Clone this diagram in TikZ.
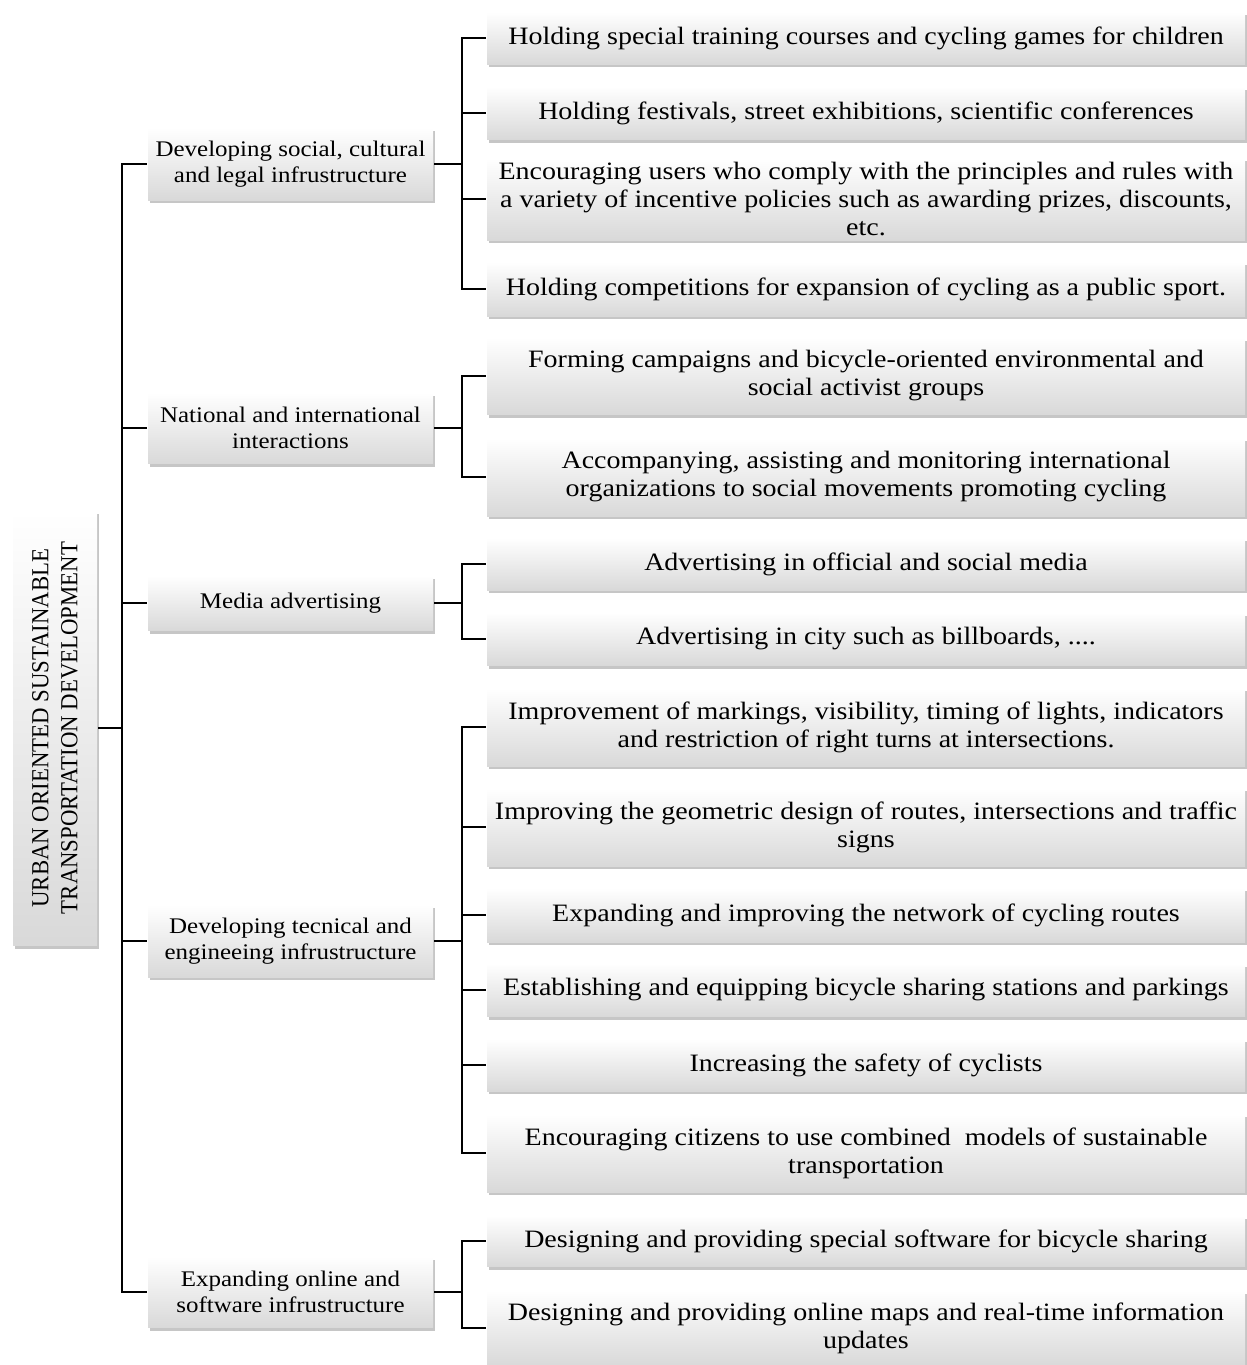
\documentclass[tikz,border=0pt]{standalone}
\usepackage{fontspec}
\setmainfont{Liberation Serif}[FakeStretch=1.12]
\newfontfamily\rootfont{Liberation Serif}[FakeStretch=0.93]
\usetikzlibrary{shadows}

\begin{document}
\begin{tikzpicture}[
  x=1pt, y=-1pt,
  line width=2pt,
  card/.style={shade, top color=white, middle color=black!2, bottom color=black!15, draw=none,
    drop shadow={shadow xshift=1.5pt, shadow yshift=-3pt, opacity=0.45, fill=black!50},
    align=center, inner sep=2pt},
  headbox/.style={card, minimum width=285pt, font=\fontsize{22.3}{26}\selectfont},
  itembox/.style={card, minimum width=758pt, font=\fontsize{25}{28}\selectfont},
]
\useasboundingbox (0,0) rectangle (1247,1365);

% Root
\node[card, rotate=90, minimum width=435pt, minimum height=84pt,
      font=\rootfont\fontsize{24.5}{29}\selectfont] (root) at (55,728)
  {URBAN ORIENTED SUSTAINABLE\\TRANSPORTATION DEVELOPMENT};

% Main branches
\node[headbox, minimum height=72pt] (social) at (290.5,164) {Developing social, cultural\\and legal infrustructure};
\node[headbox, minimum height=71pt] (intl)   at (290.5,428) {National and international\\interactions};
\node[headbox, minimum height=55pt] (media)  at (290.5,603) {Media advertising};
\node[headbox, minimum height=72pt] (tech)   at (290.5,941) {Developing tecnical and\\engineeing infrustructure};
\node[headbox, minimum height=71pt] (online) at (290.5,1292) {Expanding online and\\software infrustructure};

% Social, cultural and legal
\node[itembox, minimum height=52pt] (soc1) at (866,38)  {Holding special training courses and cycling games for children};
\node[itembox, minimum height=53pt] (soc2) at (866,113) {Holding festivals, street exhibitions, scientific conferences};
\node[itembox, minimum height=82pt] (soc3) at (866,199) {Encouraging users who comply with the principles and rules with\\a variety of incentive policies such as awarding prizes, discounts,\\etc.};
\node[itembox, minimum height=54pt] (soc4) at (866,289) {Holding competitions for expansion of cycling as a public sport.};

% National and international
\node[itembox, minimum height=77pt] (int1) at (866,376) {Forming campaigns and bicycle-oriented environmental and\\social activist groups};
\node[itembox, minimum height=78pt] (int2) at (866,477) {Accompanying, assisting and monitoring international\\organizations to social movements promoting cycling};

% Media
\node[itembox, minimum height=52pt] (med1) at (866,564) {Advertising in official and social media};
\node[itembox, minimum height=53pt] (med2) at (866,639) {Advertising in city such as billboards, ....};

% Technical and engineering
\node[itembox, minimum height=78pt] (tec1) at (866,727)  {Improvement of markings, visibility, timing of lights, indicators\\and restriction of right turns at intersections.};
\node[itembox, minimum height=78pt] (tec2) at (866,827)  {Improving the geometric design of routes, intersections and traffic\\signs};
\node[itembox, minimum height=54pt] (tec3) at (866,915)  {Expanding and improving the network of cycling routes};
\node[itembox, minimum height=53pt] (tec4) at (866,990)  {Establishing and equipping bicycle sharing stations and parkings};
\node[itembox, minimum height=52pt] (tec5) at (866,1065) {Increasing the safety of cyclists};
\node[itembox, minimum height=78pt] (tec6) at (866,1153) {Encouraging citizens to use combined\ \ models of sustainable\\transportation};

% Online and software
\node[itembox, minimum height=51pt] (onl1) at (866,1241) {Designing and providing special software for bicycle sharing};
\node[itembox, minimum height=75pt] (onl2) at (866,1328) {Designing and providing online maps and real-time information\\updates};

% Trunk
\coordinate (trunk) at (122,728);
\draw (root.south) -- (trunk);
\draw (trunk) |- (social.west);
\draw (trunk) |- (intl.west);
\draw (trunk) |- (media.west);
\draw (trunk) |- (tech.west);
\draw (trunk) |- (online.west);

% Sub trunks
\draw (social.east) -- ++(28,0) coordinate (socj);
\draw (socj) |- (soc1.west);
\draw (socj) |- (soc2.west);
\draw (socj) |- (soc3.west);
\draw (socj) |- (soc4.west);

\draw (intl.east) -- ++(28,0) coordinate (intj);
\draw (intj) |- (int1.west);
\draw (intj) |- (int2.west);

\draw (media.east) -- ++(28,0) coordinate (medj);
\draw (medj) |- (med1.west);
\draw (medj) |- (med2.west);

\draw (tech.east) -- ++(28,0) coordinate (tecj);
\draw (tecj) |- (tec1.west);
\draw (tecj) |- (tec2.west);
\draw (tecj) |- (tec3.west);
\draw (tecj) |- (tec4.west);
\draw (tecj) |- (tec5.west);
\draw (tecj) |- (tec6.west);

\draw (online.east) -- ++(28,0) coordinate (onlj);
\draw (onlj) |- (onl1.west);
\draw (onlj) |- (onl2.west);

\end{tikzpicture}
\end{document}
